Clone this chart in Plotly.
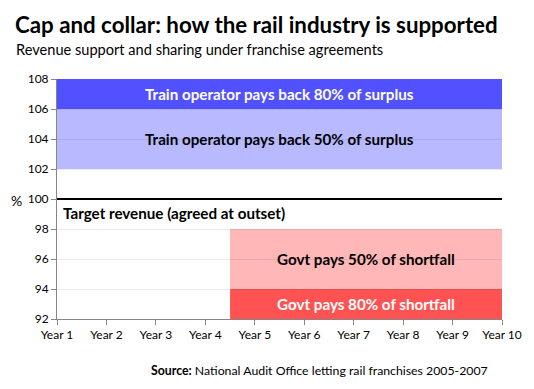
import plotly.graph_objects as go

years = [1, 2, 3, 4, 5, 6, 7, 8, 9, 10]
year_labels = ["Year %d" % y for y in years]
y_ticks = [92, 94, 96, 98, 100, 102, 104, 106, 108]

band_names = ["Train operator pays back 80% of surplus",
              "Train operator pays back 50% of surplus",
              "Govt pays 50% of shortfall",
              "Govt pays 80% of shortfall"]
band_x0 = [1, 1, 4.5, 4.5]
band_x1 = [10, 10, 10, 10]
band_y0 = [106, 102, 94, 92]
band_y1 = [108, 106, 98, 94]
band_colors = ["#5151FF", "#B9B9FF", "#FFB7B7", "#FF5353"]
label_colors = ["white", "black", "black", "white"]

target_value = 100
target_label = "Target revenue (agreed at outset)"

FONT = "Lato"

# plot area in reference pixels (page coordinates)
PL, PR, PT, PB = 57, 506, 79, 319
OFF = 8  # page body margin


def px(x):
    return (x - PL) / (PR - PL)


def py(y):
    return (PB - y) / (PB - PT)


fig = go.Figure()

shapes = []
annotations = []
for name, x0, x1, y0, y1, c, lc in zip(band_names, band_x0, band_x1, band_y0, band_y1, band_colors, label_colors):
    shapes.append(dict(type="rect", xref="x", yref="y", x0=x0, x1=x1, y0=y0, y1=y1,
                       fillcolor=c, line=dict(width=0), layer="below"))
    annotations.append(dict(x=(x0 + x1) / 2, y=(y0 + y1) / 2, xref="x", yref="y",
                            text="<b>%s</b>" % name, showarrow=False,
                            font=dict(family=FONT, size=15.2, color=lc)))

# target line
fig.add_trace(go.Scatter(x=[years[0], years[-1]], y=[target_value, target_value], mode="lines",
                         line=dict(color="black", width=2), hoverinfo="skip", showlegend=False))
annotations.append(dict(x=years[0], y=target_value - 0.9, xref="x", yref="y",
                        text="<b>%s</b>" % target_label, showarrow=False,
                        xanchor="left", yanchor="middle", xshift=4,
                        font=dict(family=FONT, size=15.2, color="black")))

# titles and texts
annotations.append(dict(x=px(13), y=py(25), xref="paper", yref="paper", xanchor="left", yanchor="middle",
                        text="<b>Cap and collar: how the rail industry is supported</b>", showarrow=False,
                        font=dict(family=FONT, size=22.3, color="black")))
annotations.append(dict(x=px(14), y=py(49), xref="paper", yref="paper", xanchor="left", yanchor="middle",
                        text="Revenue support and sharing under franchise agreements", showarrow=False,
                        font=dict(family=FONT, size=14.6, color="black")))
annotations.append(dict(x=px(494), y=py(370), xref="paper", yref="paper", xanchor="right", yanchor="middle",
                        text="<b>Source:</b> National Audit Office letting rail franchises 2005-2007", showarrow=False,
                        font=dict(family=FONT, size=12.3, color="black")))
annotations.append(dict(x=px(OFF + 1), y=py(200), xref="paper", yref="paper", xanchor="left", yanchor="middle",
                        text="%", showarrow=False, font=dict(family=FONT, size=14, color="black")))

fig.update_layout(
    width=534 - OFF, height=389 - OFF,
    margin=dict(l=PL - OFF, r=534 - PR, t=PT - OFF, b=389 - PB, pad=0),
    paper_bgcolor="white", plot_bgcolor="rgba(0,0,0,0)",
    shapes=shapes, annotations=annotations, showlegend=False,
    xaxis=dict(range=[1, 10], tickmode="array", tickvals=years, ticktext=year_labels,
               showgrid=False, zeroline=False, showline=True, linecolor="#868686", linewidth=1,
               ticks="outside", ticklen=5, tickcolor="#868686",
               tickfont=dict(family=FONT, size=12, color="black")),
    yaxis=dict(range=[92, 108], tickmode="array", tickvals=y_ticks,
               showgrid=True, gridcolor="rgba(0,0,0,0.08)", gridwidth=1, zeroline=False,
               showline=True, linecolor="#868686", linewidth=1,
               ticks="outside", ticklen=5, tickcolor="#868686",
               tickfont=dict(family=FONT, size=12, color="black")),
)

fig.write_html("out.html")
